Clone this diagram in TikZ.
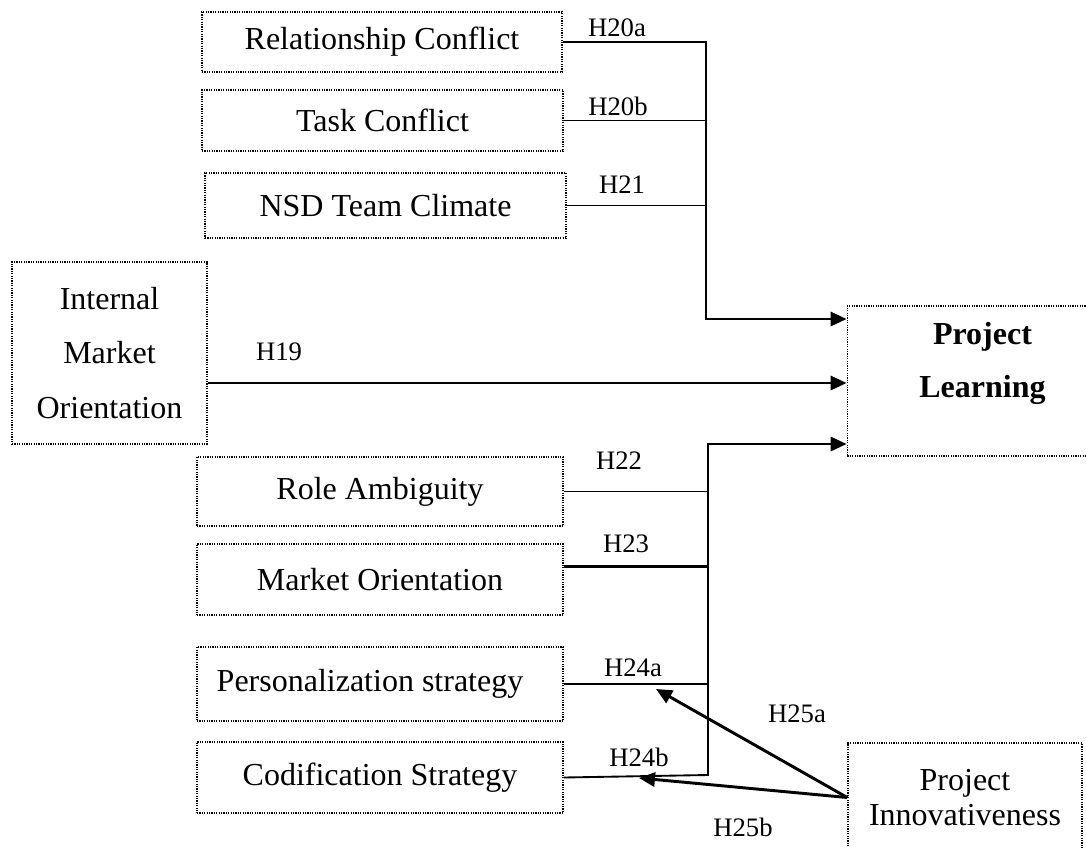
\documentclass[tikz,border=0pt]{standalone}
\usepackage{fontspec}
\setmainfont{Liberation Serif}
\usetikzlibrary{calc, arrows.meta, positioning}
\definecolor{linecolor}{HTML}{000000}

\begin{document}
\begin{tikzpicture}[
    x=0.375pt, y=-0.375pt,
    >={Triangle[length=6pt, width=5.3pt]},
    factor/.style={draw=linecolor, line width=0.55pt, dash pattern=on 0.45pt off 0.45pt, inner sep=0pt, font=\fontsize{12}{14.4}\selectfont, align=center},
    heavy/.style={draw=linecolor, line width=1.1pt},
    light/.style={draw=linecolor, line width=0.7pt},
    hyp/.style={font=\fontsize{10}{12}\selectfont, inner sep=0pt}
]
    \useasboundingbox (0,0) rectangle (1086,847);

    % Antecedent factors (left column)
    \node[factor, minimum width=135pt, minimum height=22.5pt] (rel) at (382,42) {Relationship Conflict};
    \node[factor, minimum width=135.4pt, minimum height=22.9pt] (task) at (382.5,120.5) {Task Conflict};
    \node[factor, minimum width=135.4pt, minimum height=24.4pt] (nsd) at (385.5,205.5) {NSD Team Climate};
    \node[factor, minimum width=73.1pt, minimum height=68.3pt, font=\fontsize{12}{20.6}\selectfont] (ima) at (109.5,353) {Internal\\Market\\Orientation};
    \node[factor, minimum width=137.3pt, minimum height=25.9pt] (role) at (380,491.5) {Role Ambiguity};
    \node[factor, minimum width=137.3pt, minimum height=26.6pt] (mko) at (380,579.5) {Market Orientation};
    \node[factor, minimum width=137.3pt, minimum height=27.75pt] (pers) at (380,684) {Personalization strategy\hspace{7.5pt}};
    \node[factor, minimum width=137.3pt, minimum height=26.6pt] (cod) at (380,777.5) {Codification Strategy};

    % Outcome and moderator
    \node[factor, minimum width=98pt, minimum height=56.25pt] (pl) at (978,381) {};
    \node[font=\fontsize{12}{19.9}\selectfont\bfseries, align=center, inner sep=0pt] (pltext) at (982.5,363.5) {Project\\Learning};
    \node[factor, minimum width=87.75pt, minimum height=40.9pt, font=\fontsize{12}{13.1}\selectfont] (pinn) at (965,797.5) {Project\\Innovativeness};

    % Bus junctions
    \coordinate (busA) at (706,319);
    \coordinate (busB) at (708,444);
    \coordinate (endB) at (708,775);
    \coordinate (hitA) at (656,689);
    \coordinate (hitB) at (639,778);

    % Upper group -> Project Learning
    \draw[heavy, ->] (rel.east) -| (busA) -- (busA -| pl.west);
    \draw[light] (task.east) -- (task.east -| busA);
    \draw[light] (nsd.east) -- (nsd.east -| busA);

    % Internal market orientation
    \draw[heavy, ->] ([yshift=-11.25pt]ima.east) -- ([yshift=-11.25pt]ima.east -| pl.west);

    % Lower group -> Project Learning
    \draw[heavy, ->] ([yshift=5pt]mko.east) -| (busB) -- (busB -| pl.west);
    \draw[light] (role.east) -- (role.east -| busB);
    \draw[light] (pers.east) -- (pers.east -| busB);
    \draw[light] (cod.east) -- (endB) -- (busB);

    % Moderation by project innovativeness
    \draw[heavy, ->] (pinn.west) -- (hitA);
    \draw[heavy, ->] (pinn.west) -- (hitB);

    % Hypothesis labels
    \node[hyp] (h20a) at (617,28) {H20a};
    \node[hyp] (h20b) at (618,106) {H20b};
    \node[hyp] (h21) at (622,185) {H21};
    \node[hyp] (h19) at (279,352) {H19};
    \node[hyp] (h22) at (619,461) {H22};
    \node[hyp] (h23) at (626,544) {H23};
    \node[hyp] (h24a) at (633,668) {H24a};
    \node[hyp] (h24b) at (639,757) {H24b};
    \node[hyp] (h25a) at (797,714) {H25a};
    \node[hyp] (h25b) at (743,827) {H25b};

\end{tikzpicture}
\end{document}
